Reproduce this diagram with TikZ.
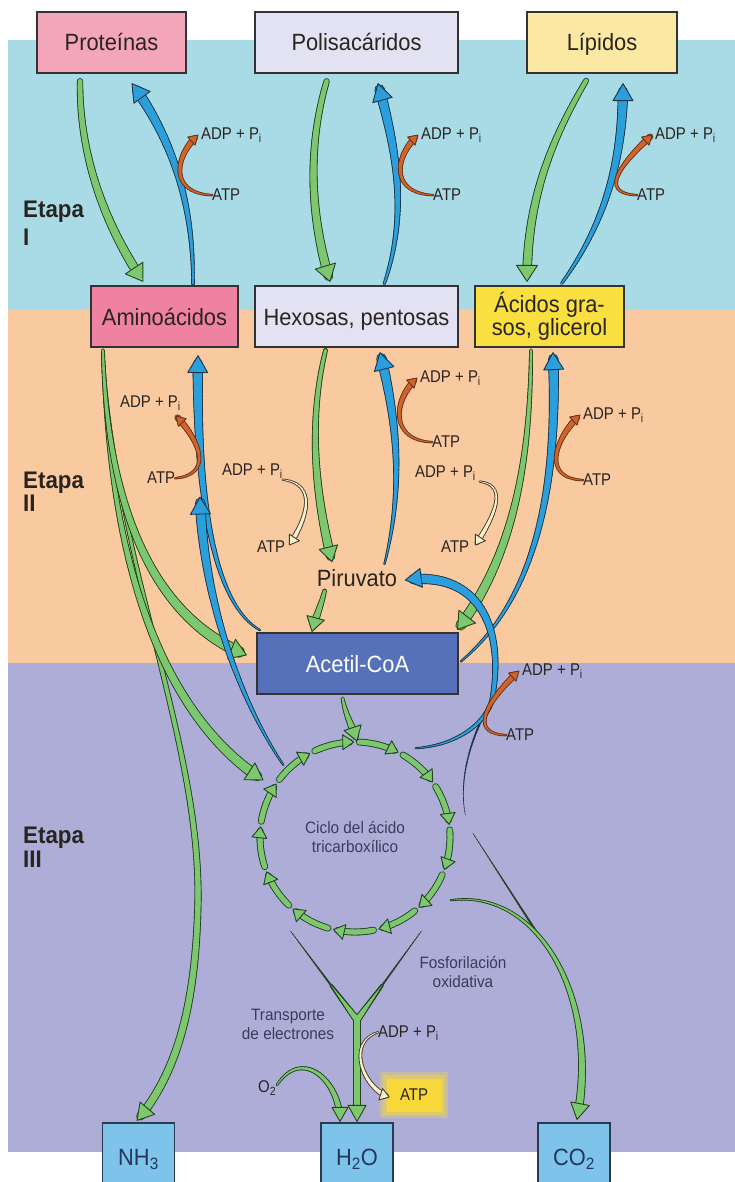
\documentclass[tikz,border=0pt]{standalone}
\usepackage{fontspec}
\setmainfont{Liberation Sans}
\newfontfamily\boxfont[FakeStretch=0.93]{Liberation Sans}
\newfontfamily\labfont[FakeStretch=0.88]{Liberation Sans}
\usetikzlibrary{decorations.markings,calc}

% background bands
\definecolor{bgI}{HTML}{A9DBE7}
\definecolor{bgII}{HTML}{F9C9A0}
\definecolor{bgIII}{HTML}{ADADD8}
% arrows
\definecolor{gfill}{HTML}{7DC86E}
\definecolor{gedge}{HTML}{24421F}
\definecolor{bfill}{HTML}{2B9FDB}
\definecolor{bedge}{HTML}{1C3447}
\definecolor{ofill}{HTML}{D0652C}
\definecolor{oedge}{HTML}{6B3017}
\definecolor{cfill}{HTML}{F6F2CC}
\definecolor{cedge}{HTML}{4A3A30}
% boxes
\definecolor{pinkA}{HTML}{F3A5B9}
\definecolor{pinkB}{HTML}{EE82A0}
\definecolor{lav}{HTML}{E2E2F3}
\definecolor{yelA}{HTML}{FBE9A3}
\definecolor{yelB}{HTML}{F9DF3F}
\definecolor{acoa}{HTML}{5671B9}
\definecolor{prod}{HTML}{7EC3EA}
\definecolor{prodline}{HTML}{2A3A50}
\definecolor{prodtext}{HTML}{24365A}
\definecolor{boxline}{HTML}{333333}
\definecolor{ink}{HTML}{2A2420}
\definecolor{inkc}{HTML}{3B3B5C}
\definecolor{glow}{HTML}{F7D838}

\tikzset{
  % a stroke whose width grows linearly from #2 to #3 along the path,
  % built from short round-capped pieces
  taper/.style n args={4}{decorate, decoration={markings,
      mark=between positions 0 and #4 step 3.5pt with {%
        \pgfmathsetmacro\tw{(#2)+((#3)-(#2))*(\pgfkeysvalueof{/pgf/decoration/mark info/distance from start})/(\pgfdecoratedpathlength)}%
        \draw[#1, line width=\tw pt, line cap=round] (-2.3,0) -- (2.3,0);}}},
  % outlined triangular head at the end of the path
  tiphead/.style n args={4}{decorate, decoration={markings,
      mark=at position -0.05pt with {\filldraw[fill=#1, draw=#2, line width=0.9pt, line join=round]
        (0,0) -- (-#3,0.5*#4) -- (-#3,-0.5*#4) -- cycle;}}},
  box/.style={draw=boxline, line width=1.1pt, inner sep=0pt, text=ink,
      font=\boxfont\fontsize{23.5}{23}\selectfont, minimum height=61pt},
  oneline/.style={text height=17pt, text depth=0pt},
  lab/.style={inner sep=0pt, text=ink, font=\labfont\fontsize{17}{19}\selectfont},
  note/.style={inner sep=0pt, text=inkc, align=center, font=\boxfont\fontsize{16.5}{19}\selectfont},
  stage/.style={inner sep=0pt, text=ink, font=\boxfont\bfseries\fontsize{24}{24}\selectfont, anchor=base west},
  prodbox/.style={draw=prodline, line width=1.1pt, fill=prod, inner sep=0pt, text=prodtext,
      font=\boxfont\fontsize{23.5}{23}\selectfont, minimum width=72pt, minimum height=68pt,
      text height=17pt, text depth=0pt},
}

% fill, edge, start width, end width, head length, head width, path
\newcommand\flowarrow[7]{%
  \path[taper={#2}{#3+1.8}{#4+1.8}{-0.5*#5pt}] #7;
  \path[taper={#1}{#3}{#4}{-0.5*#5pt}] #7;
  \path[tiphead={#1}{#2}{#5}{#6}] #7;}
% single-colour tapered line
\newcommand\flowhair[4]{\path[taper={#1}{#2}{#3}{1}] #4;}

\begin{document}
\begin{tikzpicture}[x=1pt, y=-1pt]
\useasboundingbox (0,0) rectangle (735,1182);
\clip (0,0) rectangle (735,1182);
\fill[white] (0,0) rectangle (735,1182);
\fill[bgI] (8,40) rectangle (735,310);
\fill[bgII] (8,310) rectangle (735,663);
\fill[bgIII] (8,663) rectangle (735,1152);

% ---------- boxes ----------
\node[box, oneline, fill=pinkA, minimum width=149pt] (prot) at (111.5,42.5) {Proteínas};
\node[box, oneline, fill=lav, minimum width=203pt] (poly) at (356.5,42.5) {Polisacáridos};
\node[box, oneline, fill=yelA, minimum width=150pt] (lip) at (602,42.5) {Lípidos};
\node[box, oneline, fill=pinkB, minimum width=147pt] (amino) at (164.5,316.5) {Aminoácidos};
\node[box, oneline, fill=lav, minimum width=203pt] (hex) at (356.5,316.5) {Hexosas, pentosas};
\node[box, fill=yelB, minimum width=149pt, align=center] (fat) at (549.5,316.5) {Ácidos gra-\\sos, glicerol};
\node[box, oneline, fill=acoa, text=white, minimum width=201pt] (acoa) at (357.5,663.5) {Acetil-CoA};
\node[inner sep=0pt, text=ink, font=\boxfont\fontsize{23.5}{23}\selectfont,
      text height=17pt, text depth=0pt] (pyr) at (357,578) {Piruvato};
\node[prodbox] (nh3) at (138.5,1157) {NH\textsubscript{3}};
\node[prodbox] (h2o) at (357,1157) {H\textsubscript{2}O};
\node[prodbox] (co2) at (574,1157) {CO\textsubscript{2}};

% ---------- stage labels ----------
\node[stage] (s1a) at (23,218) {Etapa};
\node[stage] (s1b) at (23,245) {I};
\node[stage] (s2a) at (23,488) {Etapa};
\node[stage] (s2b) at (23,511) {II};
\node[stage] (s3a) at (23,843) {Etapa};
\node[stage] (s3b) at (23,867) {III};

% ---------- small labels ----------
\node[lab, anchor=west] (adp1) at (201,135) {ADP + P\textsubscript{i}};
\node[lab, anchor=west] (atp1) at (212,195) {ATP};
\node[lab, anchor=west] (adp2) at (421,135) {ADP + P\textsubscript{i}};
\node[lab, anchor=west] (atp2) at (433,195) {ATP};
\node[lab, anchor=west] (adp3) at (655,135) {ADP + P\textsubscript{i}};
\node[lab, anchor=west] (atp3) at (637,195) {ATP};
\node[lab, anchor=west] (adp4) at (120,403) {ADP + P\textsubscript{i}};
\node[lab, anchor=west] (atp4) at (147,478) {ATP};
\node[lab, anchor=west] (adp5) at (222,471) {ADP + P\textsubscript{i}};
\node[lab, anchor=west] (atp5) at (257,547) {ATP};
\node[lab, anchor=west] (adp6) at (420,378) {ADP + P\textsubscript{i}};
\node[lab, anchor=west] (atp6) at (432,442) {ATP};
\node[lab, anchor=west] (adp7) at (415,473) {ADP + P\textsubscript{i}};
\node[lab, anchor=west] (atp7) at (441,547) {ATP};
\node[lab, anchor=west] (adp8) at (583,415) {ADP + P\textsubscript{i}};
\node[lab, anchor=west] (atp8) at (583,480) {ATP};
\node[lab, anchor=west] (adp9) at (522,671) {ADP + P\textsubscript{i}};
\node[lab, anchor=west] (atp9) at (506,735) {ATP};
\node[lab, anchor=west] (adp10) at (378,1033) {ADP + P\textsubscript{i}};
\node[lab, anchor=west] (o2) at (258,1088) {O\textsubscript{2}};

% highlighted ATP
\fill[glow!35!bgIII] (380,1072) rectangle (448,1118);
\fill[glow!65!bgIII] (383,1075) rectangle (445,1115);
\node[lab, fill=glow, minimum width=55pt, minimum height=33pt] (atpbox) at (414,1095) {ATP};

\node[note] (tca) at (355,837) {Ciclo del ácido\\tricarboxílico};
\node[note] (transp) at (288,1024) {Transporte\\de electrones};
\node[note] (fosf) at (463,971.5) {Fosforilación\\oxidativa};

% ---------- free ends ----------
\coordinate (tcaTop) at (357,741);
\coordinate (tcaIn) at (263,780);
\coordinate (tcaNW) at (282,763);
\coordinate (tcaNE) at (418,748);
\coordinate (tcaE) at (465,813);
\coordinate (tcaE2) at (474,835);
\coordinate (tcaSE) at (453,900);
\coordinate (b2tip) at (200,497);
\coordinate (b3mid) at (492,700);
\coordinate (a3mid) at (198,900);
\coordinate (co2join) at (541,939);
\coordinate (yL) at (292,933);
\coordinate (yR) at (420,933);
\coordinate (yJ) at (357,1020);

% ---------- stage I ----------
\flowarrow{gfill}{gedge}{4.5}{8}{16}{21}{([shift={(-31.5,10)}]prot.south) .. controls +(0,85) and +(-30,-45) .. ([shift={(-21.5,-4)}]amino.north)}
\flowarrow{bfill}{bedge}{1.5}{9}{17}{20}{([shift={(28.5,-4)}]amino.north) .. controls +(0,-80) and +(40,55) .. ([shift={(20.5,10)}]prot.south)}
\flowarrow{ofill}{oedge}{0.6}{5}{9}{11}{([xshift=-2]atp1.west) .. controls +(-40,-3) and +(-24,22) .. ([xshift=-3]adp1.west)}

\flowarrow{gfill}{gedge}{4.5}{8}{16}{21}{([shift={(-30.5,10)}]poly.south) .. controls +(-20,70) and +(-18,-60) .. ([shift={(-26.5,-4)}]hex.north)}
\flowarrow{bfill}{bedge}{1.5}{9}{17}{20}{([shift={(28.5,-4)}]hex.north) .. controls +(25,-75) and +(15,55) .. ([shift={(21.5,10)}]poly.south)}
\flowarrow{ofill}{oedge}{0.6}{5}{9}{11}{([xshift=-2]atp2.west) .. controls +(-40,-3) and +(-24,22) .. ([xshift=-3]adp2.west)}

\flowarrow{gfill}{gedge}{4}{8}{16}{21}{([shift={(-17,9)}]lip.south) .. controls +(-35,60) and +(0,-80) .. ([shift={(-22.5,-4)}]fat.north)}
\flowarrow{bfill}{bedge}{1.5}{9}{17}{20}{([shift={(13.5,-4)}]fat.north) .. controls +(50,-70) and +(0,60) .. ([shift={(21,10)}]lip.south)}
\flowarrow{ofill}{oedge}{0.6}{5}{9}{11}{([xshift=-2]atp3.west) .. controls +(-40,-3) and +(-24,22) .. ([xshift=-3]adp3.west)}

% ---------- stage II ----------
\flowarrow{gfill}{gedge}{1}{7}{16}{19}{([shift={(-61.5,5)}]amino.south) .. controls +(12,210) and +(2,-160) .. (a3mid) .. controls +(-2,110) and +(38,-45) .. ([shift={(-1.5,-2)}]nh3.north)}
\flowarrow{gfill}{gedge}{1.5}{9}{16}{20}{([shift={(-61.5,5)}]amino.south) .. controls +(7,228) and +(-93,-60) .. (tcaIn)}
\flowarrow{gfill}{gedge}{2}{10}{16}{21}{([shift={(-61.5,5)}]amino.south) .. controls +(5,168) and +(-87,-35) .. ([shift={(-10,-8.5)}]acoa.west)}

\flowarrow{bfill}{bedge}{0.5}{9}{17}{20}{([shift={(-99.5,-3.5)}]acoa.north) .. controls +(-48,-30) and +(-2,125) .. ([shift={(33.5,8)}]amino.south)}
\flowarrow{bfill}{bedge}{0.4}{9}{17}{20}{(tcaNW) .. controls +(-42,-63) and +(3,103) .. (b2tip)}
\flowarrow{ofill}{oedge}{0.6}{5}{9}{11}{([xshift=2]atp4.east) .. controls +(35,-5) and +(24,25) .. ([shift={(-5,13)}]adp4.east)}

\flowarrow{gfill}{gedge}{3}{8}{15}{19}{([shift={(-31.5,5)}]hex.south) .. controls +(-18,75) and +(-15,-60) .. ([shift={(-25,-7.5)}]pyr.north)}
\flowarrow{gfill}{gedge}{3}{7}{14}{18}{([shift={(-33,6.5)}]pyr.south) .. controls +(-3,12) and +(4,-15) .. ([shift={(-45.5,-1)}]acoa.north)}
\flowarrow{cfill}{cedge}{0.5}{4}{9}{12}{([shift={(2,9)}]adp5.east) .. controls +(30,5) and +(20,-30) .. ([shift={(4,-2)}]atp5.east)}

\flowarrow{bfill}{bedge}{0.5}{9}{17}{20}{([shift={(28,-7.5)}]pyr.north) .. controls +(20,-80) and +(15,60) .. ([shift={(23.5,5)}]hex.south)}
\flowarrow{ofill}{oedge}{0.6}{5}{9}{11}{([xshift=-2]atp6.west) .. controls +(-40,-3) and +(-24,22) .. ([xshift=-3]adp6.west)}

\flowarrow{gfill}{gedge}{2}{9}{16}{21}{([shift={(-18.5,5)}]fat.south) .. controls +(-1,118) and +(53,-70) .. ([shift={(-1,-3)}]acoa.north east)}
\flowarrow{cfill}{cedge}{0.5}{4}{9}{12}{([shift={(6,9)}]adp7.east) .. controls +(25,5) and +(20,-30) .. ([shift={(6,-2)}]atp7.east)}
\flowarrow{bfill}{bedge}{0.5}{9}{17}{20}{([shift={(4,-3.5)}]acoa.east) .. controls +(58,-50) and +(7,168) .. ([shift={(3.5,5)}]fat.south)}
\flowarrow{ofill}{oedge}{0.6}{5}{9}{11}{([xshift=-2]atp8.west) .. controls +(-40,-3) and +(-24,22) .. ([xshift=-3]adp8.west)}

% back to pyruvate
\flowhair{bedge}{0.4}{2.2}{(tcaE) .. controls +(-8,-45) and +(-12,20) .. (b3mid)}
\flowarrow{bfill}{bedge}{0.3}{9}{16}{19}{(tcaNE) .. controls +(37,-3) and +(-7,25) .. (b3mid) .. controls +(13,-70) and +(75,-10) .. ([shift={(8,2)}]pyr.east)}
\flowarrow{ofill}{oedge}{0.6}{5}{9}{11}{([xshift=-2]atp9.west) .. controls +(-40,-3) and +(-24,22) .. ([xshift=-3]adp9.west)}

% ---------- stage III ----------
\flowarrow{gfill}{gedge}{2}{7}{14}{18}{([shift={(-14.5,6)}]acoa.south) .. controls +(3,15) and +(-5,-15) .. (tcaTop)}

% citric acid cycle
\foreach \k in {0,...,12}{%
  \pgfmathsetmacro\a{-86+27.69*\k}
  \flowarrow{gfill}{gedge}{5}{5}{11}{15}{([shift={(\a:95)}]tca.center) arc[start angle=\a, end angle=\a+23, radius=95]}
}

% to CO2
\flowhair{gedge}{0.5}{2.2}{(tcaE2) -- (co2join)}
\flowarrow{gfill}{gedge}{0.3}{7}{16}{19}{(tcaSE) .. controls +(87,-10) and +(23,-120) .. ([shift={(3,-3)}]co2.north)}

% electron transport to water
\flowhair{gedge}{0.6}{2.6}{(yL) -- (yJ)}
\flowhair{gedge}{0.6}{2.6}{(yR) -- (yJ)}
\path[taper={gedge}{3.5}{7.3}{1}] ($(yL)!0.62!(yJ)$) -- (yJ);
\path[taper={gedge}{3.5}{7.3}{1}] ($(yR)!0.62!(yJ)$) -- (yJ);
\path[taper={gedge}{7.3}{7.3}{-8pt}] (yJ) -- ([shift={(0,-1)}]h2o.north);
\path[taper={gfill}{0.3}{5.5}{1}] ($(yL)!0.62!(yJ)$) -- (yJ);
\path[taper={gfill}{0.3}{5.5}{1}] ($(yR)!0.62!(yJ)$) -- (yJ);
\path[taper={gfill}{5.5}{5.5}{-8pt}] (yJ) -- ([shift={(0,-1)}]h2o.north);
\path[tiphead={gfill}{gedge}{16}{18}] (yJ) -- ([shift={(0,-1)}]h2o.north);

\flowarrow{gfill}{gedge}{0.8}{5.5}{14}{16}{([shift={(2,-5)}]o2.east) .. controls +(25,-35) and +(0,-40) .. ([shift={(-17,-1)}]h2o.north)}
\flowarrow{cfill}{cedge}{0.5}{4}{9}{12}{([xshift=-2]adp10.west) .. controls +(-30,12) and +(-25,-8) .. ([shift={(3,2)}]atpbox.west)}
\end{tikzpicture}
\end{document}
